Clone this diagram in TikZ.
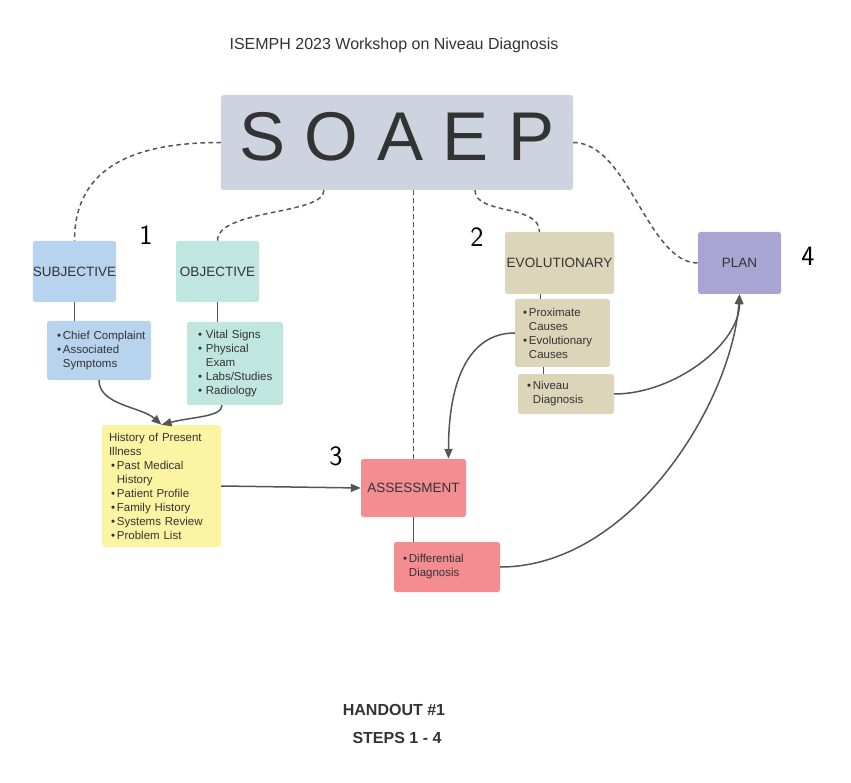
\documentclass[tikz,border=0pt]{standalone}
\usepackage{fontspec}
\setmainfont{Liberation Sans}
\usetikzlibrary{arrows.meta}
\definecolor{spText}{HTML}{333333}
\definecolor{spLine}{HTML}{555555}
\definecolor{spGray}{HTML}{CED4DF}
\definecolor{spBlue}{HTML}{B7D3EE}
\definecolor{spMint}{HTML}{C0E6E0}
\definecolor{spSand}{HTML}{DCD5B9}
\definecolor{spLilac}{HTML}{A8A5D3}
\definecolor{spRose}{HTML}{F48D92}
\definecolor{spLemon}{HTML}{FBF4A3}
\tikzset{
  sp box/.style={rounded corners=2.5pt, inner sep=0pt, align=center, text=spText, font=\fontsize{13.5}{16}\selectfont},
  sp list/.style={rounded corners=2.5pt, inner xsep=0pt, inner ysep=0pt, align=left, text=spText, font=\fontsize{11.5}{14}\selectfont},
  sp dash/.style={draw=spLine, line width=1.5pt, dash pattern=on 4.5pt off 3.5pt},
  sp link/.style={draw=spLine, line width=1.5pt},
  sp arrow/.style={sp link, -{Triangle[length=10pt,width=8pt]}},
  sp step/.style={font=\sffamily\fontsize{28}{30}\selectfont, text=black},
  sp title/.style={font=\fontsize{16}{19}\selectfont, text=spText},
}
% bullet line and its continuation
\newcommand{\spi}[1]{\mbox{\textbullet\,#1}}
\newcommand{\spk}[1]{\mbox{\phantom{\textbullet\,}#1}}

\begin{document}
\begin{tikzpicture}[x=1pt, y=-1pt]
  \useasboundingbox (0,0) rectangle (851,783);

  % Title and the big header
  \node[sp title] (title) at (394,45) {ISEMPH 2023 Workshop on Niveau Diagnosis};
  \node[sp box, fill=spGray, minimum width=352pt, minimum height=95pt, text depth=13pt,
        font=\fontsize{69}{80}\selectfont] (soaep) at (397,142.5) {S O A E P};

  % Step boxes
  \node[sp box, fill=spBlue, minimum width=83pt, minimum height=61pt] (subj) at (74.5,271.5) {SUBJECTIVE};
  \node[sp box, fill=spMint, minimum width=83pt, minimum height=61pt] (obj) at (217.5,271.5) {OBJECTIVE};
  \node[sp box, fill=spSand, minimum width=109pt, minimum height=62pt] (evol) at (559.5,263) {EVOLUTIONARY};
  \node[sp box, fill=spLilac, minimum width=83pt, minimum height=62pt] (plan) at (739.5,263) {PLAN};
  \node[sp box, fill=spRose, minimum width=105pt, minimum height=58pt] (assess) at (413.5,488) {ASSESSMENT};

  % Detail boxes
  \node[sp list, fill=spBlue, minimum width=104pt, minimum height=59pt, text width=84pt] (subjlist) at (99,350.5)
    {\spi{Chief Complaint}\\ \spi{Associated}\\ \spk{Symptoms}};
  \node[sp list, fill=spMint, minimum width=96pt, minimum height=83pt, text width=74pt] (objlist) at (235,363.5)
    {\spi{\,Vital Signs}\\ \spi{\,Physical}\\ \spk{\,Exam}\\ \spi{\,Labs/Studies}\\ \spi{\,Radiology}};
  \node[sp list, fill=spLemon, minimum width=119pt, minimum height=122pt, text width=105pt] (hpi) at (161.5,486)
    {\mbox{History of Present}\\ Illness\\ \hspace{2pt}\spi{Past Medical}\\ \hspace{2pt}\spk{History}\\ \hspace{2pt}\spi{Patient Profile}\\
     \hspace{2pt}\spi{Family History}\\ \hspace{2pt}\spi{Systems Review}\\ \hspace{2pt}\spi{Problem List}};
  \node[sp list, fill=spSand, minimum width=95pt, minimum height=68pt, text width=79pt] (evollist) at (562.5,333)
    {\spi{Proximate}\\ \spk{Causes}\\ \spi{Evolutionary}\\ \spk{Causes}};
  \node[sp list, fill=spSand, minimum width=96pt, minimum height=40pt, text width=78pt] (niveau) at (566,394)
    {\spi{Niveau}\\ \spk{Diagnosis}};
  \node[sp list, fill=spRose, minimum width=106pt, minimum height=50pt, text width=88pt] (diff) at (447,567)
    {\spi{Differential}\\ \spk{Diagnosis}};

  % Step numbers
  \node[sp step] (one) at (146,235) {1};
  \node[sp step] (two) at (477,237) {2};
  \node[sp step] (three) at (336,456) {3};
  \node[sp step] (four) at (808,256) {4};

  % Footer
  \node[sp title, font=\bfseries\fontsize{16}{19}\selectfont] (handout) at (394,710) {HANDOUT \#1};
  \node[sp title, font=\bfseries\fontsize{16}{19}\selectfont] (steps) at (397,738) {STEPS 1 - 4};

  % Dashed links from the header
  \draw[sp dash] (soaep.west) .. controls +(-85,0) and +(0,-75) .. (subj.north);
  \draw[sp dash] ([xshift=-73pt]soaep.south) .. controls +(0,25) and +(0,-32) .. (obj.north);
  \draw[sp dash] (soaep.south -| assess.north) -- (assess.north);
  \coordinate (evtop) at ([xshift=-20pt]evol.north);
  \draw[sp dash] ([xshift=78pt]soaep.south) .. controls +(0,25) and +(0,-28) .. (evtop);
  \draw[sp dash] (soaep.east) .. controls +(55,0) and +(-50,0) .. (plan.west);

  % Solid ties
  \coordinate (evbot) at ([xshift=-19pt]evol.south);
  \coordinate (evmid) at ([xshift=-19pt]evollist.south);
  \draw[sp link] (subj.south) -- (subj.south |- subjlist.north);
  \draw[sp link] (obj.south) -- (obj.south |- objlist.north);
  \draw[sp link] (evbot) -- (evbot |- evollist.north);
  \draw[sp link] (evmid) -- (evmid |- niveau.north);
  \draw[sp link] (assess.south) -- (assess.south |- diff.north);

  % Arrows
  \draw[sp arrow] (subjlist.south) .. controls +(0,25) and +(-20,-18) .. (hpi.north);
  \draw[sp arrow] ([xshift=-13pt]objlist.south) .. controls +(0,12) and +(30,-8) .. (hpi.north);
  \draw[sp arrow] (hpi.east) -- (assess.west);
  \draw[sp arrow] (evollist.west) .. controls +(-45,0) and +(0,-80) .. ([xshift=35pt]assess.north);
  \draw[sp arrow] (niveau.east) .. controls +(60,0) and +(0,50) .. (plan.south);
  \draw[sp arrow] (diff.east) .. controls +(130,0) and +(-8,110) .. (plan.south);
\end{tikzpicture}
\end{document}
